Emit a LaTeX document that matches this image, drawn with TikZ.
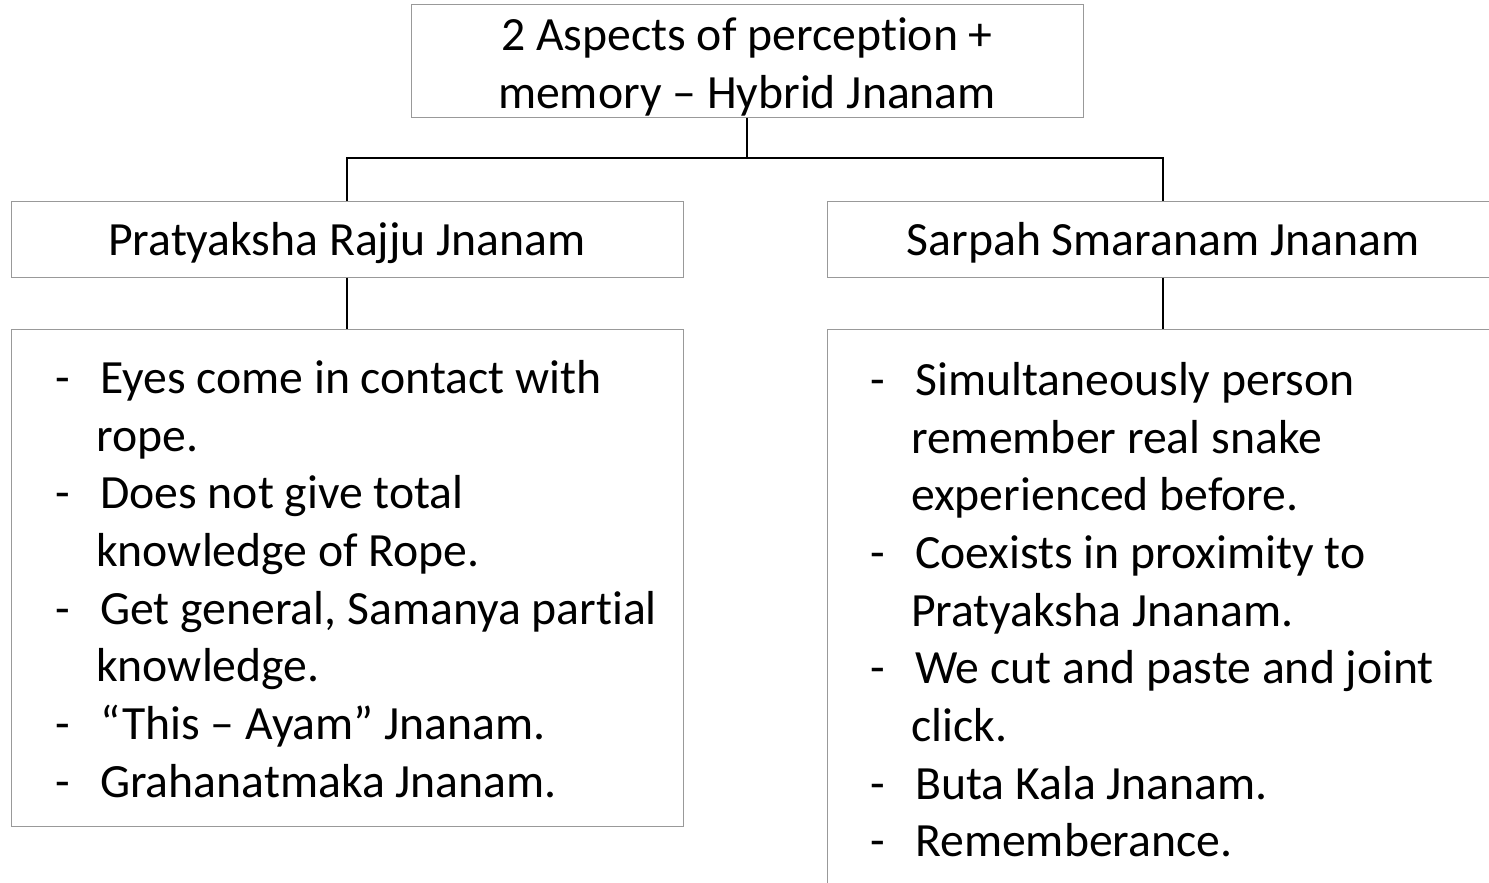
\documentclass[tikz,border=0pt]{standalone}
\usepackage{fontspec}
\setmainfont{Carlito}[Ligatures={TeX,NoCommon}]
\newcommand{\dashitem}[1]{\makebox[45pt][l]{-}#1}
\newcommand{\contline}[1]{\hspace*{41pt}#1}
\begin{document}
\begin{tikzpicture}[x=1pt,y=-1pt,
  box/.style={draw=black!40, line width=1pt, rectangle, inner sep=0pt},
  link/.style={draw=black, line width=1.5pt},
  txt/.style={font=\fontsize{47.7}{57.7}\selectfont},
  headtxt/.style={txt, text height=40pt, text depth=7.4pt},
  listtxt/.style={txt, align=left, inner sep=0pt, anchor=north west}]
\useasboundingbox (0,0) rectangle (1489,883);
\clip (0,0) rectangle (1489,883);

% root box and its two-line title
\node[box, minimum width=672pt, minimum height=112pt] (root) at (747,61) {};
\node[txt, align=center, inner sep=0pt] (roottext) at (747,67)
  {2 Aspects of perception +\\memory – Hybrid Jnanam};

% second level
\node[box, headtxt, minimum width=672pt, minimum height=76pt] (left) at (347,239) {Pratyaksha Rajju Jnanam};
\node[box, headtxt, minimum width=672pt, minimum height=76pt] (right) at (1163,239) {Sarpah Smaranam Jnanam};

% detail boxes
\node[box, minimum width=672pt, minimum height=497pt, anchor=north west] (leftlist) at (11,329) {};
\node[box, minimum width=672pt, minimum height=600pt, anchor=north west] (rightlist) at (827,329) {};

\node[listtxt] (lefttext) at ([shift={(44pt,-31pt)}]leftlist.north west)
  {\dashitem{Eyes come in contact with}\\
   \contline{rope.}\\
   \dashitem{Does not give total}\\
   \contline{knowledge of Rope.}\\
   \dashitem{Get general, Samanya partial}\\
   \contline{knowledge.}\\
   \dashitem{“This – Ayam” Jnanam.}\\
   \dashitem{Grahanatmaka Jnanam.}};

\node[listtxt] (righttext) at ([shift={(43pt,-33pt)}]rightlist.north west)
  {\dashitem{Simultaneously person}\\
   \contline{remember real snake}\\
   \contline{experienced before.}\\
   \dashitem{Coexists in proximity to}\\
   \contline{Pratyaksha Jnanam.}\\
   \dashitem{We cut and paste and joint}\\
   \contline{click.}\\
   \dashitem{Buta Kala Jnanam.}\\
   \dashitem{Rememberance.}};

% connectors
\coordinate (bar) at (0,158);
\draw[link] (root.south) -- (root.south |- bar);
\draw[link] (left.north) -- (left.north |- bar) -- (right.north |- bar) -- (right.north);
\draw[link] (left.south) -- (leftlist.north -| left.south);
\draw[link] (right.south) -- (rightlist.north -| right.south);
\end{tikzpicture}
\end{document}
